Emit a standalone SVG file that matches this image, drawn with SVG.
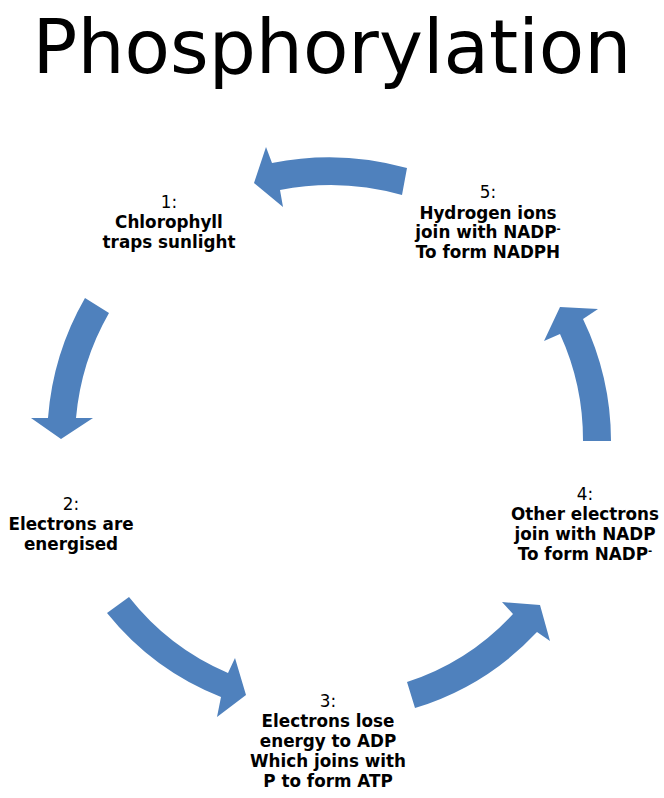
<svg xmlns="http://www.w3.org/2000/svg" width="664" height="798" viewBox="0 0 664 798">
<style>
.arr{fill:#4F81BD;stroke:none}
.t{font-family:"DejaVu Sans",sans-serif;font-size:16.8px;fill:#000;text-anchor:middle}
.b{font-weight:bold}
.title{font-family:"DejaVu Sans",sans-serif;font-size:74.3px;fill:#000;text-anchor:middle}
.sup{font-size:10px}
</style>
<rect width="664" height="798" fill="#fff"/>
<text class="title" x="332" y="73">Phosphorylation</text>
<g id="connectors">
<path class="arr" d="M407,168 A288,288 0 0 0 272,163 L266,147 L254,183 L283,207 L280,190 A260,260 0 0 1 402,195 Z"/>
<path class="arr" d="M85,298 A284,284 0 0 0 48,418 L31,418 L61,439 L93,418 L76,418 A256,256 0 0 1 109,313 Z"/>
<path class="arr" d="M107,613 A277,277 0 0 0 221,697 L217,717 L246,695 L235,658 L228,673 A251,251 0 0 1 129,597 Z"/>
<path class="arr" d="M415,708 A278,278 0 0 0 537,632 L550,641 L540,605 L502,602 L513,614 A249,249 0 0 1 407,682 Z"/>
<path class="arr" d="M611,441 A282,282 0 0 0 583,319 L598,309 L560,307 L544,341 L560,334 A254,254 0 0 1 583,441 Z"/>
</g>
<g id="node1">
<text class="t" x="169" y="208">1:</text>
<text class="t b" x="169" y="228">Chlorophyll</text>
<text class="t b" x="169" y="248">traps sunlight</text>
</g>
<g id="node2">
<text class="t" x="71" y="510">2:</text>
<text class="t b" x="71" y="530">Electrons are</text>
<text class="t b" x="71" y="550">energised</text>
</g>
<g id="node3">
<text class="t" x="328" y="707">3:</text>
<text class="t b" x="328" y="727">Electrons lose</text>
<text class="t b" x="328" y="747">energy to ADP</text>
<text class="t b" x="328" y="767">Which joins with</text>
<text class="t b" x="328" y="787">P to form ATP</text>
</g>
<g id="node4">
<text class="t" x="585" y="500">4:</text>
<text class="t b" x="585" y="520">Other electrons</text>
<text class="t b" x="585" y="540">join with NADP</text>
<text class="t b" x="585" y="560">To form NADP<tspan class="sup" dy="-6">-</tspan></text>
</g>
<g id="node5">
<text class="t" x="488" y="198">5:</text>
<text class="t b" x="488" y="219">Hydrogen ions</text>
<text class="t b" x="488" y="238">join with NADP<tspan class="sup" dy="-6">-</tspan></text>
<text class="t b" x="488" y="258">To form NADPH</text>
</g>
</svg>
